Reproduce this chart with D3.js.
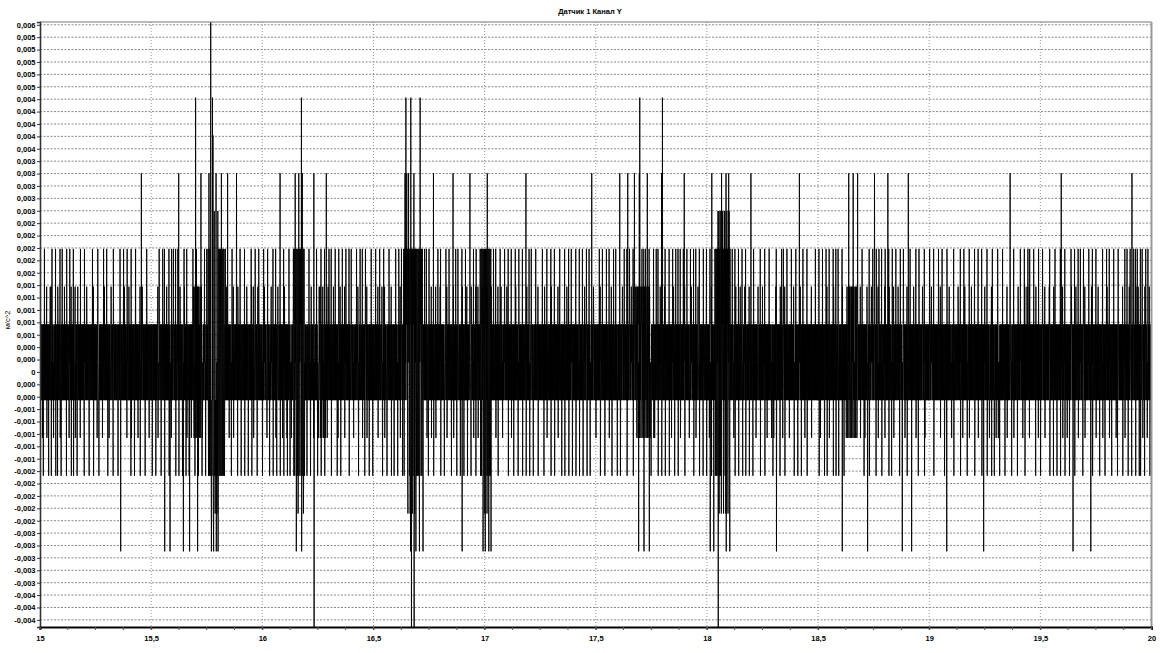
<!DOCTYPE html>
<html>
<head>
<meta charset="utf-8">
<script src="https://cdn.jsdelivr.net/npm/d3@7/dist/d3.min.js"></script>
<style>
  body { margin: 0; background: #fff; }
  svg { display: block; }
  text { font-family: "Liberation Sans", Arial, sans-serif; font-weight: bold; font-size: 7.5px; fill: #000; }
</style>
</head>
<body>
<svg id="chart" width="1160" height="653"></svg>
<script>
// chart texts
const chartTitle = "Датчик 1 Канал Y";
const yTitle = "м/с^2";

// time axis, s
const tStart = 15, tEnd = 20;
const xTickValues = [15, 15.5, 16, 16.5, 17, 17.5, 18, 18.5, 19, 19.5, 20];
const xTickLabels = ["15", "15,5", "16", "16,5", "17", "17,5", "18", "18,5", "19", "19,5", "20"];
const xMinorStep = 0.125;

// value axis, m/s^2 (labels top to bottom, one per 0.0002)
const yTickTop = 0.0056, yTickStep = 0.0002;
const yTickLabels = [
  "0,006", "0,005", "0,005", "0,005", "0,005", "0,005",
  "0,004", "0,004", "0,004", "0,004", "0,004",
  "0,003", "0,003", "0,003", "0,003", "0,003",
  "0,002", "0,002", "0,002", "0,002", "0,002",
  "0,001", "0,001", "0,001", "0,001", "0,001",
  "0,000", "0,000", "0", "0,000", "0,000",
  "-0,001", "-0,001", "-0,001", "-0,001", "-0,001",
  "-0,002", "-0,002", "-0,002", "-0,002", "-0,002",
  "-0,003", "-0,003", "-0,003", "-0,003", "-0,003",
  "-0,004", "-0,004", "-0,004"
];

// the sensor is quantized: value = levelOffset + k * levelStep
const levelOffset = 0.000155, levelStep = 0.00061;
const levelMin = -7, levelMax = 9;
const sampleDt = 0.001;

// texture of the steady band between levels +1 and -1
const bandCycle = [1, -1, 1, 0, -1, 1, -1, 1, 0, -1, 1, -1, 0, 1, -1, 0, 1, -1, 1, 0, -1, -1, 1, -1, 1, 0, -1];

// dense bursts: start, end, upper level, lower level, spacing in samples
const burstStart = [15.690, 15.755, 15.770, 16.140, 16.250, 16.635, 16.655, 16.980, 17.680, 18.035, 18.050, 18.625];
const burstEnd   = [15.730, 15.830, 15.800, 16.190, 16.300, 16.720, 16.690, 17.030, 17.745, 18.105, 18.100, 18.680];
const burstHi    = [2, 3, 4, 3, 2, 3, 3, 3, 2, 3, 4, 2];
const burstLo    = [-2, -3, -4, -3, -2, -3, -4, -3, -2, -3, -4, -2];
const burstEvery = [3, 2, 4, 2, 4, 2, 5, 2, 3, 2, 5, 3];

// single excursions above the band, by level
const up2 = [15.03, 15.047, 15.05, 15.08, 15.11, 15.14, 15.159, 15.17, 15.21, 15.236, 15.24, 15.29, 15.32, 15.36, 15.38,
  15.40, 15.41, 15.45, 15.46, 15.53, 15.57, 15.63, 15.65, 15.69, 15.70, 15.71, 15.72, 15.84, 15.87, 15.89, 15.92,
  15.93, 15.953, 15.96, 15.98, 16.01, 16.025, 16.04, 16.07, 16.097, 16.10, 16.15, 16.17, 16.185, 16.22, 16.26,
  16.28, 16.30, 16.32, 16.35, 16.37, 16.40, 16.43, 16.47, 16.52, 16.538, 16.55, 16.58, 16.62, 16.64, 16.66, 16.70,
  16.72, 16.738, 16.76, 16.78, 16.80, 16.83, 16.86, 16.90, 16.92, 16.94, 16.96, 16.97, 16.99, 17.0, 17.01, 17.02,
  17.03, 17.06, 17.075, 17.10, 17.14, 17.17, 17.19, 17.24, 17.27, 17.30, 17.33, 17.37, 17.41, 17.45, 17.49, 17.52,
  17.57, 17.62, 17.66, 17.67, 17.68, 17.69, 17.70, 17.72, 17.74, 17.79, 17.81, 17.83, 17.85, 17.87, 17.90, 17.93,
  17.96, 18.02, 18.04, 18.06, 18.08, 18.09, 18.10, 18.13, 18.15, 18.17, 18.19, 18.23, 18.25, 18.31, 18.33, 18.35,
  18.39, 18.42, 18.47, 18.54, 18.57, 18.61, 18.63, 18.64, 18.65, 18.66, 18.67, 18.69, 18.72, 18.74, 18.77, 18.80,
  18.82, 18.84, 18.86, 18.90, 18.93, 18.97, 19.01, 19.05, 19.09, 19.13, 19.16, 19.19, 19.25, 19.28, 19.35, 19.40,
  19.43, 19.44, 19.45, 19.48, 19.52, 19.54, 19.56, 19.60, 19.64, 19.66, 19.70, 19.73, 19.76, 19.80, 19.83, 19.87,
  19.90, 19.93, 19.94, 19.97, 19.99];
const up3 = [15.02, 15.055, 15.071, 15.09, 15.10, 15.12, 15.135, 15.151, 15.183, 15.20, 15.236, 15.26, 15.287, 15.30,
  15.33, 15.360, 15.376, 15.392, 15.411, 15.43, 15.48, 15.536, 15.552, 15.56, 15.58, 15.592, 15.600, 15.61, 15.621,
  15.648, 15.66, 15.688, 15.704, 15.725, 15.74, 15.75, 15.835, 15.845, 15.865, 15.90, 15.92, 15.950, 15.969, 15.985,
  16.006, 16.025, 16.049, 16.06, 16.081, 16.097, 16.12, 16.21, 16.233, 16.245, 16.265, 16.28, 16.30, 16.31, 16.329,
  16.345, 16.36, 16.377, 16.39, 16.401, 16.425, 16.441, 16.45, 16.465, 16.49, 16.51, 16.529, 16.546, 16.57, 16.60,
  16.615, 16.626, 16.73, 16.738, 16.75, 16.770, 16.79, 16.802, 16.826, 16.84, 16.858, 16.87, 16.88, 16.898, 16.914,
  16.935, 16.95, 16.962, 17.04, 17.050, 17.07, 17.090, 17.106, 17.12, 17.138, 17.155, 17.171, 17.187, 17.20, 17.211,
  17.23, 17.26, 17.28, 17.299, 17.315, 17.339, 17.36, 17.379, 17.39, 17.411, 17.427, 17.44, 17.459, 17.47, 17.483,
  17.516, 17.53, 17.548, 17.56, 17.580, 17.59, 17.609, 17.629, 17.64, 17.653, 17.669, 17.709, 17.717, 17.725,
  17.741, 17.76, 17.773, 17.78, 17.813, 17.830, 17.846, 17.86, 17.870, 17.88, 17.894, 17.91, 17.926, 17.94, 17.950,
  17.966, 17.985, 17.998, 18.014, 18.115, 18.127, 18.143, 18.159, 18.175, 18.199, 18.21, 18.240, 18.26, 18.28,
  18.312, 18.336, 18.345, 18.360, 18.38, 18.40, 18.433, 18.45, 18.489, 18.505, 18.52, 18.537, 18.55, 18.569, 18.58,
  18.59, 18.609, 18.698, 18.730, 18.746, 18.762, 18.775, 18.786, 18.802, 18.818, 18.835, 18.850, 18.87, 18.885,
  18.915, 18.94, 18.955, 18.979, 19.003, 19.02, 19.043, 19.059, 19.08, 19.11, 19.140, 19.156, 19.18, 19.204, 19.22,
  19.236, 19.26, 19.285, 19.309, 19.33, 19.365, 19.38, 19.41, 19.429, 19.445, 19.453, 19.47, 19.493, 19.51, 19.542,
  19.566, 19.590, 19.61, 19.638, 19.654, 19.670, 19.68, 19.695, 19.719, 19.735, 19.75, 19.78, 19.799, 19.81, 19.831,
  19.85, 19.880, 19.89, 19.904, 19.912, 19.920, 19.928, 19.936, 19.95, 19.959, 19.975, 19.984];
const up4 = [18.055, 18.079];
const up5 = [15.456, 15.624, 15.725, 15.760, 15.792, 15.816, 15.845, 15.884, 16.081, 16.148, 16.165, 16.180, 16.233,
  16.289, 16.642, 16.650, 16.658, 16.682, 16.770, 16.858, 16.935, 17.013, 17.187, 17.483, 17.609, 17.645, 17.674,
  17.696, 17.733, 17.797, 17.899, 18.023, 18.066, 18.087, 18.098, 18.199, 18.416, 18.638, 18.658, 18.678, 18.754,
  18.815, 18.907, 19.365, 19.595, 19.912];
const up6 = [15.779];
const up7 = [15.701, 15.776, 16.177, 16.646, 16.669, 16.711, 17.699, 17.801];
const up9 = [15.768];

// single excursions below the band, by level
const down2 = [15.0, 15.01, 15.031, 15.06, 15.09, 15.13, 15.159, 15.18, 15.22, 15.256, 15.28, 15.31, 15.35, 15.39,
  15.411, 15.44, 15.472, 15.49, 15.53, 15.59, 15.61, 15.66, 15.67, 15.68, 15.73, 15.85, 15.87, 15.92, 15.96, 16.02,
  16.06, 16.09, 16.11, 16.13, 16.23, 16.26, 16.28, 16.31, 16.34, 16.37, 16.41, 16.45, 16.47, 16.52, 16.55, 16.58,
  16.62, 16.74, 16.76, 16.78, 16.83, 16.86, 16.95, 16.97, 17.05, 17.08, 17.12, 17.15, 17.24, 17.28, 17.33, 17.36,
  17.41, 17.46, 17.50, 17.56, 17.61, 17.64, 17.765, 17.76, 17.84, 17.88, 17.92, 17.95, 18.01, 18.12, 18.16, 18.19,
  18.22, 18.27, 18.29, 18.30, 18.34, 18.37, 18.44, 18.47, 18.51, 18.55, 18.58, 18.69, 18.71, 18.73, 18.77, 18.80,
  18.84, 18.89, 18.94, 18.98, 19.02, 19.05, 19.10, 19.15, 19.18, 19.22, 19.27, 19.30, 19.31, 19.35, 19.38, 19.42,
  19.45, 19.49, 19.52, 19.60, 19.62, 19.67, 19.70, 19.75, 19.78, 19.81, 19.84, 19.88, 19.91, 19.96, 19.98];
const down3 = [15.015, 15.039, 15.05, 15.07, 15.079, 15.095, 15.119, 15.14, 15.151, 15.167, 15.199, 15.22, 15.24,
  15.264, 15.304, 15.328, 15.35, 15.408, 15.424, 15.45, 15.472, 15.504, 15.520, 15.544, 15.58, 15.61, 15.624, 15.640,
  15.656, 15.67, 15.696, 15.712, 15.728, 15.744, 15.86, 15.889, 15.905, 15.92, 15.937, 15.953, 15.977, 16.000,
  16.033, 16.049, 16.065, 16.081, 16.097, 16.113, 16.125, 16.201, 16.217, 16.249, 16.265, 16.281, 16.31, 16.337,
  16.353, 16.39, 16.433, 16.46, 16.481, 16.497, 16.54, 16.561, 16.58, 16.593, 16.609, 16.63, 16.746, 16.77, 16.802,
  16.818, 16.85, 16.874, 16.890, 16.906, 16.922, 16.938, 16.96, 17.06, 17.106, 17.130, 17.15, 17.171, 17.187,
  17.203, 17.219, 17.24, 17.267, 17.299, 17.315, 17.347, 17.36, 17.379, 17.395, 17.41, 17.427, 17.443, 17.46,
  17.475, 17.52, 17.540, 17.572, 17.596, 17.61, 17.64, 17.669, 17.749, 17.781, 17.797, 17.813, 17.830, 17.854,
  17.87, 17.90, 17.94, 17.966, 17.982, 17.998, 18.02, 18.127, 18.143, 18.16, 18.175, 18.19, 18.207, 18.240, 18.26,
  18.296, 18.328, 18.35, 18.392, 18.408, 18.424, 18.45, 18.505, 18.529, 18.54, 18.569, 18.58, 18.593, 18.617,
  18.706, 18.73, 18.76, 18.786, 18.818, 18.83, 18.867, 18.90, 18.95, 18.979, 19.02, 19.068, 19.11, 19.140, 19.17,
  19.204, 19.236, 19.260, 19.28, 19.293, 19.317, 19.341, 19.37, 19.397, 19.43, 19.478, 19.50, 19.542, 19.558,
  19.574, 19.590, 19.61, 19.630, 19.654, 19.69, 19.735, 19.767, 19.79, 19.82, 19.847, 19.871, 19.895, 19.91,
  19.928, 19.944, 19.95, 19.968, 19.992];
const down4 = [16.161, 16.185, 17.000, 17.010, 18.095];
const down5 = [15.363, 15.560, 15.584, 15.645, 15.672, 15.708, 15.771, 15.781, 15.792, 15.800, 16.153, 16.177,
  16.666, 16.690, 16.706, 16.722, 16.898, 16.992, 17.002, 17.018, 17.029, 17.693, 17.717, 17.741, 18.014, 18.031,
  18.087, 18.103, 18.312, 18.609, 18.722, 18.879, 18.920, 19.079, 19.244, 19.646, 19.727];
const down7 = [16.233, 16.671, 16.682, 18.051];

const upSpikes = [[2, up2], [3, up3], [4, up4], [5, up5], [6, up6], [7, up7], [9, up9]];
const downSpikes = [[-2, down2], [-3, down3], [-4, down4], [-5, down5], [-7, down7]];

// ---- build the sample sequence
const levelValue = k => levelOffset + k * levelStep;
const n = Math.round((tEnd - tStart) / sampleDt);
const idx = t => Math.round((t - tStart) / sampleDt);
const lv = [];
for (let i = 0; i <= n; i++) lv.push(bandCycle[i % bandCycle.length]);

burstStart.forEach((a, j) => {
  const step = burstEvery[j];
  for (let i = idx(a); i <= idx(burstEnd[j]); i++) {
    const r = i % (2 * step);
    if (r === 0) lv[i] = Math.max(lv[i], burstHi[j]);
    else if (r === step) lv[i] = Math.min(lv[i], burstLo[j]);
  }
});
// upward peaks on even samples, downward on odd ones
upSpikes.forEach(([k, times]) => times.forEach(t => {
  let i = idx(t); if (i % 2) i -= 1;
  lv[i] = Math.max(lv[i], k);
}));
downSpikes.forEach(([k, times]) => times.forEach(t => {
  let i = idx(t); if (i % 2 === 0) i = Math.min(i + 1, n);
  lv[i] = Math.min(lv[i], k);
}));
const samples = lv.map((k, i) => ({ t: tStart + i * sampleDt, v: levelValue(k) }));

// ---- layout
const plotLeft = 40, plotRight = 1151.5, plotTop = 22, plotBottom = 627;
const svg = d3.select("#chart");

const x = d3.scaleLinear().domain([tStart, tEnd]).range([plotLeft, plotRight]);
const y = d3.scaleLinear().domain([levelValue(levelMin), levelValue(levelMax)]).range([plotBottom, plotTop]);

const yTickValues = yTickLabels.map((_, i) => yTickTop - i * yTickStep);
const xMinor = d3.range(tStart, tEnd + 1e-9, xMinorStep);

// grid
svg.append("g").selectAll("line")
  .data(yTickValues)
  .join("line")
    .attr("x1", plotLeft).attr("x2", plotRight)
    .attr("y1", d => y(d)).attr("y2", d => y(d))
    .attr("stroke", "#6a6a6a").attr("stroke-width", 0.8)
    .attr("stroke-dasharray", "2,1.5");

svg.append("g").selectAll("line")
  .data(xTickValues.slice(1, -1))
  .join("line")
    .attr("x1", d => x(d)).attr("x2", d => x(d))
    .attr("y1", plotTop).attr("y2", plotBottom)
    .attr("stroke", "#8a8a8a").attr("stroke-width", 0.9)
    .attr("stroke-dasharray", "1,2");

// signal
svg.append("clipPath").attr("id", "plotClip")
  .append("rect")
    .attr("x", plotLeft).attr("y", plotTop)
    .attr("width", plotRight - plotLeft).attr("height", plotBottom - plotTop);

const line = d3.line().x(d => x(d.t)).y(d => y(d.v));
svg.append("path")
  .datum(samples)
  .attr("clip-path", "url(#plotClip)")
  .attr("fill", "none")
  .attr("stroke", "#000")
  .attr("stroke-width", 0.9)
  .attr("d", line);

// frame
svg.append("line").attr("x1", plotLeft).attr("x2", plotRight).attr("y1", plotTop).attr("y2", plotTop)
  .attr("stroke", "#777").attr("stroke-width", 1);
svg.append("line").attr("x1", plotRight).attr("x2", plotRight).attr("y1", plotTop).attr("y2", plotBottom)
  .attr("stroke", "#999").attr("stroke-width", 2);

// y axis
const yAxis = d3.axisLeft(y)
  .tickValues(yTickValues)
  .tickFormat((d, i) => yTickLabels[i])
  .tickSize(3).tickPadding(1.5);
const gy = svg.append("g").attr("transform", `translate(${plotLeft},0)`).call(yAxis);
gy.select(".domain").attr("stroke", "#333").attr("stroke-width", 1.6);
gy.selectAll(".tick line").attr("stroke", "#333");
gy.selectAll("text").attr("font-size", null).attr("font-family", null);

// x axis
const xAxis = d3.axisBottom(x)
  .tickValues(xTickValues)
  .tickFormat((d, i) => xTickLabels[i])
  .tickSize(3).tickPadding(6);
const gx = svg.append("g").attr("transform", `translate(0,${plotBottom})`).call(xAxis);
gx.select(".domain").attr("stroke", "#000").attr("stroke-width", 2);
gx.selectAll(".tick line").attr("stroke", "#333");
gx.selectAll("text").attr("font-size", null).attr("font-family", null);

gx.append("g").selectAll("line")
  .data(xMinor)
  .join("line")
    .attr("x1", d => x(d)).attr("x2", d => x(d))
    .attr("y1", 0).attr("y2", 3)
    .attr("stroke", "#555");

// titles
svg.append("text")
  .attr("x", 590).attr("y", 14)
  .attr("text-anchor", "middle")
  .text(chartTitle);

svg.append("text")
  .attr("transform", "translate(10,320) rotate(-90)")
  .attr("text-anchor", "middle")
  .style("font-weight", "normal")
  .text(yTitle);
</script>
</body>
</html>
